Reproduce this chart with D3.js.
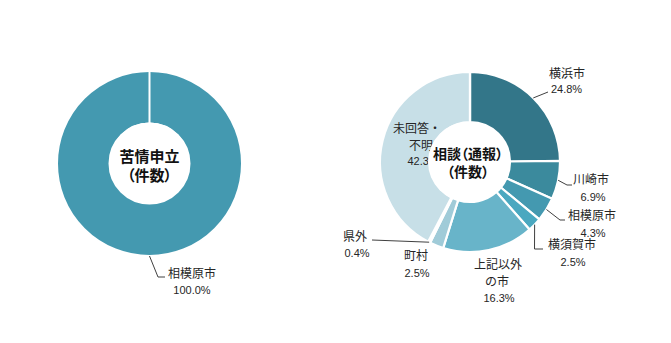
<!DOCTYPE html>
<html><head><meta charset="utf-8">
<script src="https://cdn.jsdelivr.net/npm/d3@7"></script>
<style>
html,body{margin:0;padding:0;background:#fff;}
svg{display:block;}
</style></head>
<body>
<svg id="chart" width="671" height="343"></svg>
<script>
// ---- data ----
const leftCategories = ["相模原市"];
const leftValues = [100.0];
const leftTitle = ["苦情申立", "（件数）"];

const rightCategories = ["横浜市", "川崎市", "相模原市", "横須賀市", "上記以外の市", "町村", "県外", "未回答・不明"];
const rightValues = [24.8, 6.9, 4.3, 2.5, 16.3, 2.5, 0.4, 42.3];
const rightTitle = ["相談（通報）", "（件数）"];

// ---- styles / layout (not data) ----
const leftColors = ["#4499b0"];
const rightColors = ["#337689", "#3b8a9d", "#4499b0", "#4aa8c0", "#68b4c9", "#a0cbd8", "#e6f1f4", "#c7dfe7"];

const svg = d3.select("#chart");
const cjk = "'Noto Sans CJK JP','Noto Sans',sans-serif";
const num = "'Liberation Sans',Arial,sans-serif";
const txtColor = "#262626";

function donut(cx, cy, R, r, values, colors, sepWidth) {
  const g = svg.append("g").attr("transform", `translate(${cx},${cy})`);
  const pie = d3.pie().sort(null).value(d => d)(values);
  const arc = d3.arc().innerRadius(r).outerRadius(R);
  g.selectAll("path").data(pie).join("path")
    .attr("d", arc).attr("fill", (d, i) => colors[i])
    .attr("stroke", "#fff").attr("stroke-width", sepWidth).attr("stroke-linejoin", "miter");
  g.append("line").attr("x1", 0).attr("y1", -r).attr("x2", 0).attr("y2", -R - 1)
    .attr("stroke", "#fff").attr("stroke-width", sepWidth);
  return {g, pie};
}

function pointAt(cx, cy, R, ang) {
  return [cx + R * Math.sin(ang), cy - R * Math.cos(ang)];
}

function label(lines, x, y0, dy) {
  lines.forEach((l, i) => {
    const isNum = /%|^\d/.test(l.t);
    svg.append("text").attr("x", l.x ?? x).attr("y", y0 + i * dy)
      .attr("text-anchor", "middle").attr("dominant-baseline", "central")
      .attr("font-family", isNum ? num : cjk)
      .attr("font-size", isNum ? 11 : 12)
      .attr("fill", txtColor).text(l.t);
  });
}

function leader(pts) {
  svg.append("polyline").attr("points", pts.map(p => p.join(",")).join(" "))
    .attr("fill", "none").attr("stroke", "#404040").attr("stroke-width", 1);
}

function centerTitle(cx, cy, r, lines, size, y1, y2) {
  svg.append("circle").attr("cx", cx).attr("cy", cy).attr("r", r).attr("fill", "#fff");
  [y1, y2].forEach((y, i) => {
    svg.append("text").attr("x", cx).attr("y", y)
      .attr("text-anchor", "middle").attr("dominant-baseline", "central")
      .attr("font-family", cjk).attr("font-weight", "bold").attr("font-size", size)
      .style("font-feature-settings", "'palt'")
      .attr("fill", "#111").text(lines[i]);
  });
}

const fmt = v => v.toFixed(1) + "%";

// ---- left donut ----
const L = {cx: 149.5, cy: 163.5, R: 92.5, r: 40};
const left = donut(L.cx, L.cy, L.R, L.r, leftValues, leftColors, 2);
{
  const d = left.pie[0];
  const p = pointAt(L.cx, L.cy, L.R, (d.startAngle + d.endAngle) / 2);
  leader([p, [158, 277], [165, 277]]);
  label([{t: leftCategories[0]}, {t: fmt(leftValues[0])}], 192, 272, 18);
}
centerTitle(L.cx, L.cy - 1, L.r, leftTitle, 15, 155, 174);

// ---- right donut ----
const Rt = {cx: 470, cy: 162, R: 90, r: 40};
const right = donut(Rt.cx, Rt.cy, Rt.R, Rt.r, rightValues, rightColors, 2.2);
const mid = i => pointAt(Rt.cx, Rt.cy, Rt.R, (right.pie[i].startAngle + right.pie[i].endAngle) / 2);

leader([mid(0), [548, 92]]);
leader([mid(1), [567, 185], [572, 185]]);
leader([mid(2), [560, 220], [565, 220]]);
leader([mid(3), [534.5, 249], [543, 249]]);
leader([mid(6), [372, 240]]);

label([{t: "横浜市", x: 567}, {t: fmt(rightValues[0]), x: 566.5}], 0, 72, 17);
label([{t: "川崎市", x: 591}, {t: fmt(rightValues[1]), x: 593}], 0, 178, 19);
label([{t: "相模原市", x: 592}, {t: fmt(rightValues[2]), x: 593}], 0, 214, 19);
label([{t: "横須賀市", x: 572}, {t: fmt(rightValues[3]), x: 573}], 0, 243, 19);
label([{t: "上記以外", x: 498}, {t: "の市", x: 497}, {t: fmt(rightValues[4]), x: 499}], 0, 263, 17.5);
label([{t: "町村", x: 416}, {t: fmt(rightValues[5]), x: 417}], 0, 254, 19);
label([{t: "県外", x: 355}, {t: fmt(rightValues[6]), x: 357}], 0, 235, 18);
label([{t: "未回答・", x: 417}, {t: "不明", x: 421}, {t: fmt(rightValues[7]), x: 423}], 0, 127, 17);

centerTitle(Rt.cx - 2, Rt.cy, Rt.r, rightTitle, 14, 153, 171);
</script>
</body></html>
